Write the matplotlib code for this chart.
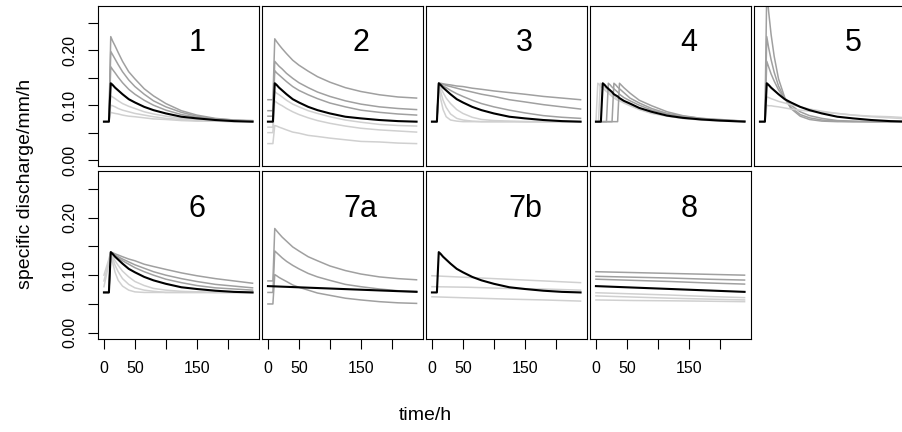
import matplotlib
matplotlib.use("Agg")
import matplotlib.pyplot as plt

plt.rcParams["font.family"] = ["Liberation Sans", "DejaVu Sans"]

# time axes (h): event runs, the lag runs of panel 4, and slow baseline runs
t = [0, 8, 11, 14, 18, 23, 30, 40, 50, 65, 80, 100, 125, 150, 180, 210, 240]
t_lag = [0, 3, 4, 7, 8, 11, 14, 17, 20, 23, 26, 29, 32, 35, 38, 45, 55, 70, 90, 115, 140, 170, 200, 240]
t_long = [0, 60, 120, 180, 240]

# reference run (black)
q_ref = [0.070, 0.070, 0.140, 0.137, 0.132, 0.127, 0.120, 0.111, 0.105, 0.097, 0.091, 0.085, 0.079, 0.076, 0.073, 0.071, 0.070]
q_ref_lag = [0.070, 0.070, 0.070, 0.070, 0.070, 0.140, 0.137, 0.133, 0.130, 0.127, 0.124, 0.120, 0.118, 0.116, 0.113, 0.108, 0.103, 0.095, 0.088, 0.081, 0.077, 0.074, 0.072, 0.070]
q_ref_flat = [0.081, 0.0785, 0.076, 0.0735, 0.071]

q1 = [
    [0.070, 0.070, 0.225, 0.217, 0.208, 0.196, 0.180, 0.161, 0.148, 0.130, 0.117, 0.103, 0.090, 0.082, 0.076, 0.073, 0.072],
    [0.070, 0.070, 0.198, 0.192, 0.184, 0.174, 0.161, 0.146, 0.134, 0.120, 0.108, 0.097, 0.087, 0.080, 0.075, 0.073, 0.071],
    [0.070, 0.070, 0.170, 0.165, 0.159, 0.151, 0.141, 0.129, 0.120, 0.109, 0.100, 0.091, 0.083, 0.078, 0.074, 0.072, 0.071],
    [0.070, 0.070, 0.117, 0.115, 0.112, 0.108, 0.103, 0.098, 0.094, 0.088, 0.084, 0.080, 0.076, 0.074, 0.072, 0.071, 0.070],
    [0.070, 0.070, 0.100, 0.099, 0.097, 0.094, 0.091, 0.088, 0.085, 0.082, 0.079, 0.076, 0.074, 0.072, 0.071, 0.070, 0.070],
    [0.070, 0.070, 0.087, 0.086, 0.085, 0.084, 0.082, 0.080, 0.079, 0.077, 0.075, 0.074, 0.072, 0.071, 0.071, 0.070, 0.070],
]
q2 = [
    [0.110, 0.110, 0.221, 0.216, 0.210, 0.203, 0.194, 0.182, 0.173, 0.162, 0.152, 0.142, 0.132, 0.125, 0.119, 0.115, 0.113],
    [0.090, 0.090, 0.180, 0.176, 0.171, 0.166, 0.158, 0.149, 0.141, 0.132, 0.124, 0.116, 0.108, 0.102, 0.097, 0.094, 0.092],
    [0.080, 0.080, 0.163, 0.159, 0.155, 0.150, 0.143, 0.134, 0.127, 0.119, 0.112, 0.104, 0.097, 0.091, 0.087, 0.084, 0.082],
    [0.060, 0.060, 0.125, 0.122, 0.119, 0.115, 0.109, 0.102, 0.097, 0.090, 0.085, 0.079, 0.073, 0.069, 0.065, 0.063, 0.062],
    [0.050, 0.050, 0.108, 0.105, 0.102, 0.099, 0.094, 0.088, 0.083, 0.077, 0.072, 0.067, 0.062, 0.058, 0.055, 0.053, 0.051],
    [0.030, 0.030, 0.063, 0.062, 0.060, 0.058, 0.055, 0.051, 0.049, 0.045, 0.043, 0.040, 0.037, 0.034, 0.033, 0.031, 0.030],
]
q3 = [
    [0.070, 0.070, 0.140, 0.140, 0.139, 0.138, 0.137, 0.135, 0.134, 0.131, 0.129, 0.126, 0.123, 0.120, 0.116, 0.113, 0.110],
    [0.070, 0.070, 0.140, 0.139, 0.138, 0.136, 0.134, 0.131, 0.128, 0.124, 0.120, 0.116, 0.110, 0.106, 0.101, 0.097, 0.093],
    [0.070, 0.070, 0.140, 0.138, 0.135, 0.132, 0.127, 0.121, 0.116, 0.109, 0.103, 0.097, 0.091, 0.086, 0.081, 0.078, 0.076],
    [0.070, 0.070, 0.140, 0.132, 0.123, 0.113, 0.103, 0.092, 0.085, 0.078, 0.074, 0.072, 0.071, 0.070, 0.070, 0.070, 0.070],
    [0.070, 0.070, 0.140, 0.125, 0.109, 0.096, 0.084, 0.076, 0.073, 0.071, 0.070, 0.070, 0.070, 0.070, 0.070, 0.070, 0.070],
    [0.070, 0.070, 0.140, 0.112, 0.092, 0.079, 0.073, 0.071, 0.070, 0.070, 0.070, 0.070, 0.070, 0.070, 0.070, 0.070, 0.070],
]
q4 = [
    [0.070, 0.140, 0.139, 0.135, 0.134, 0.131, 0.128, 0.125, 0.122, 0.119, 0.116, 0.113, 0.111, 0.109, 0.108, 0.104, 0.099, 0.092, 0.085, 0.080, 0.076, 0.073, 0.071, 0.070],
    [0.070, 0.070, 0.070, 0.140, 0.139, 0.135, 0.132, 0.129, 0.126, 0.123, 0.120, 0.117, 0.114, 0.112, 0.110, 0.106, 0.101, 0.093, 0.086, 0.081, 0.076, 0.074, 0.072, 0.071],
    [0.070, 0.070, 0.070, 0.070, 0.070, 0.070, 0.070, 0.070, 0.140, 0.137, 0.133, 0.130, 0.127, 0.124, 0.120, 0.114, 0.108, 0.100, 0.091, 0.084, 0.079, 0.075, 0.073, 0.071],
    [0.070, 0.070, 0.070, 0.070, 0.070, 0.070, 0.070, 0.070, 0.070, 0.070, 0.070, 0.140, 0.137, 0.133, 0.130, 0.123, 0.113, 0.104, 0.094, 0.085, 0.080, 0.076, 0.073, 0.071],
    [0.070, 0.070, 0.070, 0.070, 0.070, 0.070, 0.070, 0.070, 0.070, 0.070, 0.070, 0.070, 0.070, 0.070, 0.140, 0.132, 0.122, 0.109, 0.099, 0.088, 0.081, 0.076, 0.074, 0.071],
]
q5 = [
    [0.070, 0.070, 0.310, 0.271, 0.229, 0.189, 0.148, 0.114, 0.094, 0.080, 0.074, 0.071, 0.070, 0.070, 0.070, 0.070, 0.070],
    [0.070, 0.070, 0.225, 0.205, 0.183, 0.160, 0.135, 0.112, 0.096, 0.083, 0.077, 0.073, 0.071, 0.070, 0.070, 0.070, 0.070],
    [0.070, 0.070, 0.180, 0.170, 0.157, 0.144, 0.128, 0.112, 0.100, 0.088, 0.081, 0.076, 0.072, 0.071, 0.070, 0.070, 0.070],
    [0.070, 0.070, 0.115, 0.114, 0.112, 0.110, 0.107, 0.104, 0.101, 0.097, 0.093, 0.089, 0.085, 0.082, 0.079, 0.077, 0.075],
    [0.070, 0.070, 0.100, 0.099, 0.099, 0.098, 0.097, 0.095, 0.093, 0.091, 0.089, 0.087, 0.085, 0.082, 0.080, 0.079, 0.077],
]
q6 = [
    [0.070, 0.070, 0.140, 0.139, 0.137, 0.135, 0.132, 0.128, 0.125, 0.119, 0.115, 0.110, 0.104, 0.099, 0.094, 0.090, 0.086],
    [0.070, 0.070, 0.140, 0.138, 0.135, 0.132, 0.128, 0.123, 0.118, 0.112, 0.106, 0.100, 0.094, 0.089, 0.084, 0.081, 0.078],
    [0.070, 0.070, 0.140, 0.137, 0.134, 0.130, 0.125, 0.119, 0.113, 0.106, 0.100, 0.093, 0.087, 0.082, 0.078, 0.076, 0.074],
    [0.100, 0.128, 0.140, 0.133, 0.125, 0.117, 0.107, 0.097, 0.089, 0.082, 0.077, 0.074, 0.072, 0.071, 0.070, 0.070, 0.070],
    [0.090, 0.124, 0.140, 0.129, 0.117, 0.106, 0.094, 0.084, 0.078, 0.074, 0.072, 0.070, 0.070, 0.070, 0.070, 0.070, 0.070],
    [0.080, 0.120, 0.140, 0.122, 0.105, 0.091, 0.081, 0.074, 0.071, 0.070, 0.070, 0.070, 0.070, 0.070, 0.070, 0.070, 0.070],
]
q7a = [
    [0.090, 0.090, 0.181, 0.177, 0.172, 0.166, 0.159, 0.149, 0.142, 0.132, 0.125, 0.116, 0.108, 0.102, 0.097, 0.094, 0.092],
    [0.070, 0.070, 0.142, 0.139, 0.135, 0.130, 0.124, 0.117, 0.111, 0.103, 0.097, 0.091, 0.084, 0.080, 0.076, 0.073, 0.072],
    [0.050, 0.050, 0.101, 0.099, 0.096, 0.093, 0.089, 0.083, 0.079, 0.074, 0.069, 0.065, 0.060, 0.057, 0.054, 0.052, 0.051],
]
q7b = [
    [0.099, 0.096, 0.093, 0.090, 0.087],
    [0.080, 0.079, 0.077, 0.076, 0.074],
    [0.0625, 0.0605, 0.0585, 0.057, 0.055],
]
q8 = [
    [0.106, 0.1045, 0.103, 0.1015, 0.100],
    [0.098, 0.0965, 0.095, 0.093, 0.0915],
    [0.093, 0.091, 0.089, 0.0865, 0.0845],
    [0.0695, 0.0675, 0.0655, 0.063, 0.061],
    [0.064, 0.062, 0.060, 0.0585, 0.057],
    [0.057, 0.056, 0.0555, 0.0548, 0.054],
]

DARK = "#a0a0a0"
LIGHT = "#d0d0d0"
shade1 = [DARK, DARK, DARK, LIGHT, LIGHT, LIGHT]
shade2 = [DARK, DARK, DARK, LIGHT, LIGHT, LIGHT]
shade3 = [DARK, DARK, DARK, LIGHT, LIGHT, LIGHT]
shade4 = [LIGHT, LIGHT, DARK, DARK, DARK]
shade5 = [DARK, DARK, DARK, LIGHT, LIGHT]
shade6 = [DARK, DARK, DARK, LIGHT, LIGHT, LIGHT]
shade7a = [DARK, DARK, DARK]
shade7b = [LIGHT, LIGHT, LIGHT]
shade8 = [DARK, DARK, DARK, LIGHT, LIGHT, LIGHT]

# label, row, column, runs, run time, shades, reference time, reference run
panels = [
    ("1", 0, 0, q1, t, shade1, t, q_ref),
    ("2", 0, 1, q2, t, shade2, t, q_ref),
    ("3", 0, 2, q3, t, shade3, t, q_ref),
    ("4", 0, 3, q4, t_lag, shade4, t_lag, q_ref_lag),
    ("5", 0, 4, q5, t, shade5, t, q_ref),
    ("6", 1, 0, q6, t, shade6, t, q_ref),
    ("7a", 1, 1, q7a, t, shade7a, t_long, q_ref_flat),
    ("7b", 1, 2, q7b, t_long, shade7b, t, q_ref),
    ("8", 1, 3, q8, t_long, shade8, t_long, q_ref_flat),
]

W, H = 902.0, 432.0
col_left = [98, 262, 426, 590, 754]
col_w = 160.5
row_span = [(6, 166), (171, 339)]

fig = plt.figure(figsize=(W / 100, H / 100), dpi=100)

for label, row, col, runs, tr, shades, tb, qb in panels:
    top, bot = row_span[row]
    ax = fig.add_axes([col_left[col] / W, 1 - bot / H, col_w / W, (bot - top) / H])
    for q, c in zip(runs, shades):
        ax.plot(tr, q, color=c, lw=1.1, solid_joinstyle="round")
    ax.plot(tb, qb, color="black", lw=1.5, solid_joinstyle="round")

    ax.set_xlim(-9.6, 249.6)
    ax.set_ylim(-0.0108, 0.2808)
    for s in ax.spines.values():
        s.set_linewidth(0.8)
    ax.tick_params(direction="out", length=7, width=0.8, labelsize=11.5)

    if col == 0:
        ax.set_yticks([0.0, 0.05, 0.10, 0.15, 0.20, 0.25])
        ax.set_yticklabels(["0.00", "", "0.10", "", "0.20", ""], rotation=90, va="center")
        ax.tick_params(axis="y", pad=8)
    else:
        ax.set_yticks([])
    if row == 1:
        ax.set_xticks([0, 50, 100, 150, 200])
        ax.set_xticklabels(["0", "50", "", "150", ""])
        ax.tick_params(axis="x", pad=8.5)
    else:
        ax.set_xticks([])

    ax.text(150, 0.214, label, ha="center", va="center", fontsize=22)

fig.text(26 / W, 1 - 184 / H, "specific discharge/mm/h", rotation=90,
         ha="center", va="center", fontsize=14)
fig.text(425 / W, 1 - 415 / H, "time/h", ha="center", va="center", fontsize=14)

fig.savefig("out.png", dpi=100)
